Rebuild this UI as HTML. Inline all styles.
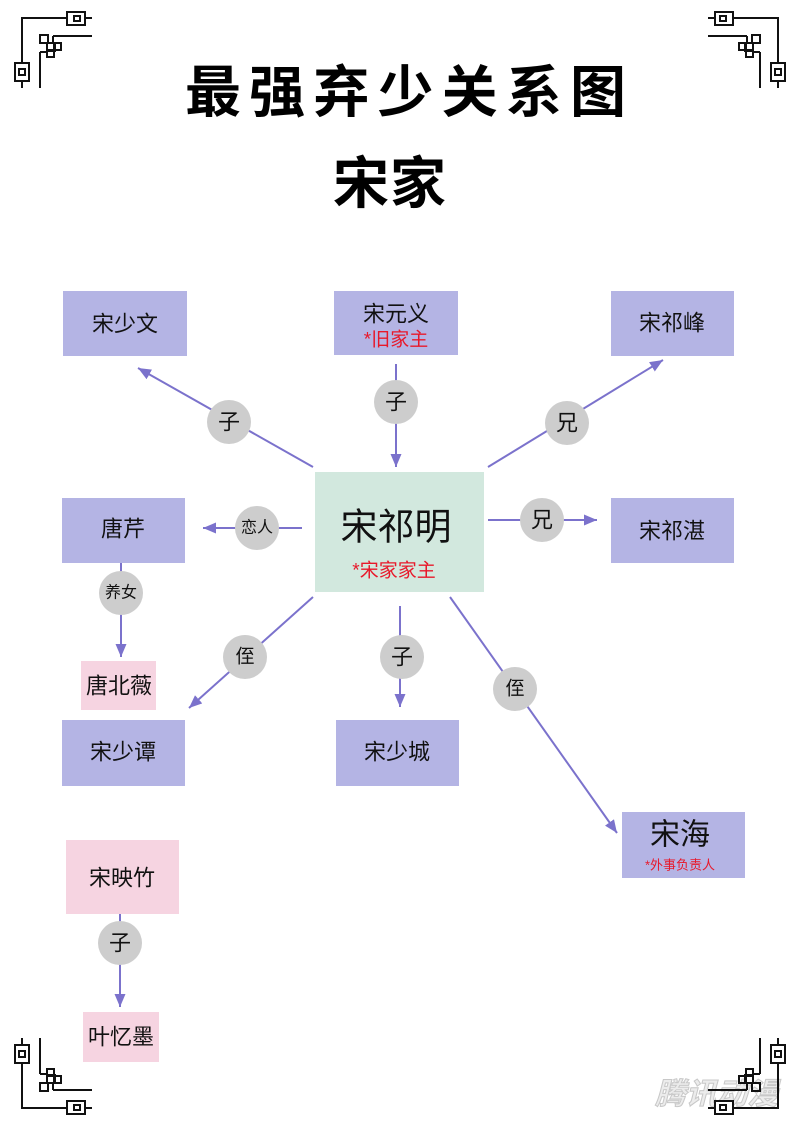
<!DOCTYPE html>
<html><head><meta charset="utf-8"><style>
html,body{margin:0;padding:0;background:#fff;}
svg{display:block;}
text{font-family:"Liberation Sans","Noto Sans CJK SC",sans-serif;}
</style></head><body>
<svg width="800" height="1131" viewBox="0 0 800 1131" xmlns="http://www.w3.org/2000/svg">
<defs>
<marker id="ah" markerWidth="14" markerHeight="12" refX="13" refY="6" orient="auto" markerUnits="userSpaceOnUse">
<path d="M0,0.5 L13,6 L0,11.5 Z" fill="#7b72cc"/>
</marker>
<g id="orn" fill="none" stroke="#111" stroke-width="2">
<path d="M22,88 V18 H92"/>
<rect x="67" y="12" width="18" height="13" fill="#fff"/>
<rect x="74" y="16" width="6" height="5"/>
<rect x="15" y="63" width="14" height="18" fill="#fff"/>
<rect x="19" y="69" width="6" height="6"/>
<path d="M40,88 V52 M53,36 H92"/>
<rect x="40" y="35" width="8" height="8"/>
<rect x="47" y="43" width="8" height="8"/>
<rect x="54" y="43" width="7" height="7"/>
<rect x="47" y="50" width="7" height="7"/>
<path d="M40,52 H47 M53,36 V43"/>
</g>
</defs>

<!-- ornaments -->
<use href="#orn"/>
<use href="#orn" transform="translate(800,0) scale(-1,1)"/>
<use href="#orn" transform="translate(0,1126) scale(1,-1)"/>
<!-- watermark -->
<text x="655" y="1104" font-size="30" font-weight="bold" font-style="italic" fill="#ececec" stroke="#c8c8c8" stroke-width="1" textLength="123" lengthAdjust="spacingAndGlyphs" style="font-family:'Noto Sans CJK SC',sans-serif">腾讯动漫</text>
<use href="#orn" transform="translate(800,1126) scale(-1,-1)"/>

<!-- titles -->
<text x="185" y="112" font-size="56" font-weight="bold" fill="#000" textLength="441" lengthAdjust="spacing" style="font-family:'Noto Sans CJK SC',sans-serif">最强弃少关系图</text>
<text x="333" y="203" font-size="56" font-weight="bold" fill="#000" textLength="113" lengthAdjust="spacing" style="font-family:'Noto Sans CJK SC',sans-serif">宋家</text>

<!-- connectors -->
<g stroke="#7b72cc" stroke-width="2" fill="none" marker-end="url(#ah)">
<line x1="313" y1="467" x2="138" y2="368"/>
<line x1="396" y1="364" x2="396" y2="467"/>
<line x1="488" y1="467" x2="663" y2="360"/>
<line x1="488" y1="520" x2="597" y2="520"/>
<line x1="302" y1="528" x2="203" y2="528"/>
<line x1="121" y1="563" x2="121" y2="657"/>
<line x1="313" y1="597" x2="189" y2="708"/>
<line x1="400" y1="606" x2="400" y2="707"/>
<line x1="450" y1="597" x2="617" y2="833"/>
<line x1="120" y1="914" x2="120" y2="1007"/>
</g>

<!-- boxes -->
<g fill="#b4b4e4">
<rect x="63" y="291" width="124" height="65"/>
<rect x="334" y="291" width="124" height="64"/>
<rect x="611" y="291" width="123" height="65"/>
<rect x="62" y="498" width="123" height="65"/>
<rect x="611" y="498" width="123" height="65"/>
<rect x="62" y="720" width="123" height="66"/>
<rect x="336" y="720" width="123" height="66"/>
<rect x="622" y="812" width="123" height="66"/>
</g>
<rect x="315" y="472" width="169" height="120" fill="#d2e8de"/>
<g fill="#f6d4e1">
<rect x="81" y="661" width="75" height="49"/>
<rect x="66" y="840" width="113" height="74"/>
<rect x="83" y="1012" width="76" height="50"/>
</g>

<!-- box labels -->
<g font-size="22" fill="#111" text-anchor="middle" dominant-baseline="central">
<text x="125" y="324">宋少文</text>
<text x="396" y="314">宋元义</text>
<text x="672" y="323">宋祁峰</text>
<text x="123" y="529">唐芹</text>
<text x="672" y="531">宋祁湛</text>
<text x="119" y="686">唐北薇</text>
<text x="123" y="752">宋少谭</text>
<text x="397" y="752">宋少城</text>
<text x="122" y="878">宋映竹</text>
<text x="121" y="1037">叶忆墨</text>
<text x="396" y="527" font-size="37">宋祁明</text>
<text x="680" y="835" font-size="30">宋海</text>
</g>
<g fill="#e8182a" text-anchor="middle" dominant-baseline="central">
<text x="396" y="340" font-size="19">*旧家主</text>
<text x="394" y="571" font-size="19">*宋家家主</text>
<text x="680" y="865" font-size="13">*外事负责人</text>
</g>

<!-- edge label circles -->
<g fill="#cdcdcd">
<circle cx="229" cy="422" r="22"/>
<circle cx="396" cy="402" r="22"/>
<circle cx="567" cy="423" r="22"/>
<circle cx="542" cy="520" r="22"/>
<circle cx="257" cy="528" r="22"/>
<circle cx="121" cy="593" r="22"/>
<circle cx="245" cy="657" r="22"/>
<circle cx="402" cy="657" r="22"/>
<circle cx="515" cy="689" r="22"/>
<circle cx="120" cy="943" r="22"/>
</g>
<g font-size="22" fill="#111" text-anchor="middle" dominant-baseline="central">
<text x="229" y="422">子</text>
<text x="396" y="402">子</text>
<text x="567" y="423">兄</text>
<text x="542" y="520">兄</text>
<text x="257" y="528" font-size="16">恋人</text>
<text x="121" y="593" font-size="16">养女</text>
<text x="245" y="657" font-size="19">侄</text>
<text x="402" y="657">子</text>
<text x="515" y="689" font-size="19">侄</text>
<text x="120" y="943">子</text>
</g>
</svg>
</body></html>
